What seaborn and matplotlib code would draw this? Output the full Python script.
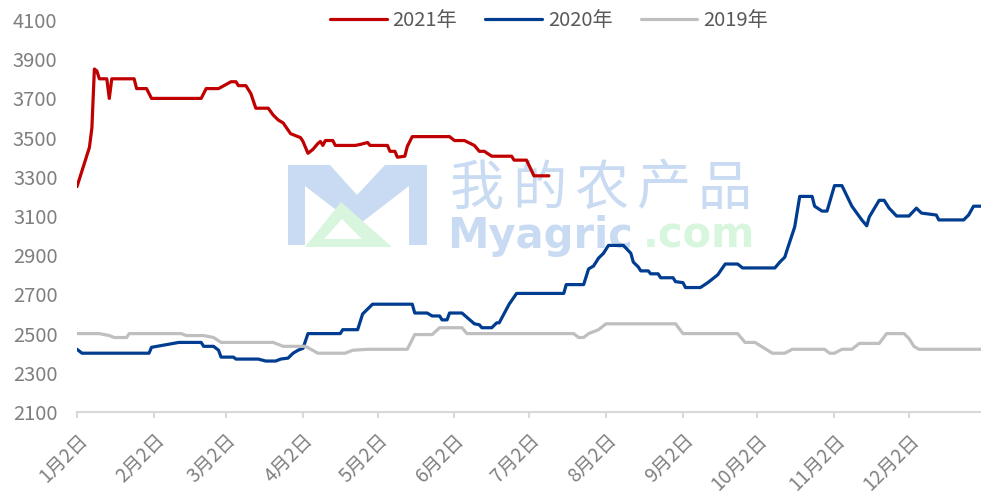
import pandas as pd
import matplotlib.pyplot as plt
import seaborn as sns
from matplotlib.patches import Polygon

# price series (month-day, value)
dates_2021 = ['01-02', '01-04', '01-07', '01-08', '01-09', '01-10', '01-11', '01-14', '01-15', '01-16',
              '01-25', '01-26', '01-30', '02-01', '02-21', '02-23', '02-28', '03-04', '03-06', '03-07',
              '03-10', '03-12', '03-14', '03-19', '03-21', '03-23', '03-25', '03-28', '04-01', '04-02',
              '04-04', '04-06', '04-08', '04-09', '04-10', '04-11', '04-14', '04-15', '04-23', '04-25',
              '04-28', '04-29', '05-06', '05-07', '05-09', '05-10', '05-13', '05-14', '05-16', '05-31',
              '06-02', '06-06', '06-10', '06-12', '06-14', '06-17', '06-25', '06-26', '07-01', '07-04',
              '07-10']
price_2021 = [3250, 3330, 3450, 3550, 3850, 3840, 3800, 3800, 3700, 3800,
              3800, 3750, 3750, 3700, 3700, 3750, 3750, 3785, 3785, 3765,
              3765, 3725, 3650, 3650, 3615, 3590, 3575, 3520, 3500, 3480,
              3420, 3440, 3470, 3480, 3460, 3485, 3485, 3460, 3460, 3465,
              3475, 3460, 3460, 3430, 3430, 3400, 3405, 3455, 3505, 3505,
              3485, 3485, 3460, 3430, 3430, 3405, 3405, 3385, 3385, 3305,
              3305]

dates_2020 = ['01-02', '01-04', '01-31', '02-01', '02-12', '02-21', '02-22', '02-26', '02-28', '02-29',
              '03-05', '03-06', '03-15', '03-18', '03-22', '03-24', '03-27', '03-29', '03-31', '04-02',
              '04-04', '04-17', '04-18', '04-24', '04-26', '04-30', '05-16', '05-17', '05-22', '05-24',
              '05-27', '05-28', '05-30', '05-31', '06-05', '06-10', '06-12', '06-13', '06-17', '06-19',
              '06-20', '06-24', '06-27', '07-16', '07-17', '07-24', '07-26', '07-28', '07-30', '08-01',
              '08-03', '08-09', '08-12', '08-13', '08-15', '08-16', '08-19', '08-20', '08-23', '08-24',
              '08-29', '08-30', '09-02', '09-03', '09-09', '09-12', '09-16', '09-19', '09-24', '09-26',
              '10-09', '10-11', '10-13', '10-14', '10-17', '10-19', '10-24', '10-25', '10-28', '10-30',
              '11-02', '11-05', '11-09', '11-11', '11-13', '11-15', '11-16', '11-20', '11-22', '11-24',
              '11-27', '12-02', '12-05', '12-07', '12-13', '12-14', '12-24', '12-26', '12-28', '12-31']
price_2020 = [2420, 2400, 2400, 2430, 2455, 2455, 2435, 2435, 2415, 2380,
              2380, 2370, 2370, 2360, 2360, 2370, 2375, 2400, 2415, 2425,
              2500, 2500, 2520, 2520, 2600, 2650, 2650, 2605, 2605, 2590,
              2590, 2570, 2570, 2605, 2605, 2550, 2545, 2530, 2530, 2555,
              2555, 2650, 2705, 2705, 2750, 2750, 2830, 2845, 2885, 2910,
              2950, 2950, 2910, 2865, 2840, 2820, 2820, 2805, 2805, 2785,
              2785, 2765, 2760, 2735, 2735, 2760, 2800, 2855, 2855, 2835,
              2835, 2865, 2890, 2930, 3045, 3200, 3200, 3150, 3125, 3125,
              3255, 3255, 3150, 3115, 3080, 3050, 3095, 3180, 3180, 3140,
              3100, 3100, 3140, 3115, 3105, 3080, 3080, 3105, 3150, 3150]

dates_2019 = ['01-02', '01-11', '01-15', '01-17', '01-22', '01-23', '02-13', '02-15', '02-22', '02-26',
              '02-29', '03-21', '03-25', '04-03', '04-08', '04-19', '04-22', '04-28', '05-14', '05-17',
              '05-24', '05-27', '06-05', '06-07', '07-20', '07-22', '07-24', '07-26', '07-30', '08-02',
              '08-30', '09-02', '09-24', '09-26', '09-27', '10-01', '10-08', '10-13', '10-16', '10-29',
              '10-31', '11-02', '11-05', '11-09', '11-12', '11-20', '11-23', '11-30', '12-02', '12-04',
              '12-06', '12-31']
price_2019 = [2500, 2500, 2490, 2480, 2480, 2500, 2500, 2490, 2490, 2480,
              2455, 2455, 2435, 2435, 2400, 2400, 2415, 2420, 2420, 2495,
              2495, 2530, 2530, 2500, 2500, 2480, 2480, 2500, 2520, 2550,
              2550, 2500, 2500, 2470, 2455, 2455, 2400, 2400, 2420, 2420,
              2400, 2400, 2420, 2420, 2450, 2450, 2500, 2500, 2475, 2435,
              2420, 2420]

years = ['2021年', '2020年', '2019年']
colors = ['#C00000', '#003C8F', '#BFBFBF']

tick_dates = ['01-02', '02-02', '03-02', '04-02', '05-02', '06-02',
              '07-02', '08-02', '09-02', '10-02', '11-02', '12-02']
tick_labels = ['1月2日', '2月2日', '3月2日', '4月2日', '5月2日', '6月2日',
               '7月2日', '8月2日', '9月2日', '10月2日', '11月2日', '12月2日']
y_ticks = list(range(2100, 4101, 200))

# long form table, all years put on one (leap) calendar
frames = []
for year, d, p in zip(years, [dates_2021, dates_2020, dates_2019], [price_2021, price_2020, price_2019]):
    frames.append(pd.DataFrame({'date': pd.to_datetime(['2020-' + s for s in d]),
                                'price': p, 'year': year}))
df = pd.concat(frames, ignore_index=True)

sns.set_theme(style='white')
plt.rcParams['font.family'] = ['Noto Sans CJK SC', 'DejaVu Sans']

W, H = 981, 499
fig = plt.figure(figsize=(W / 100, H / 100), dpi=100)
ax = fig.add_axes([77 / W, 1 - 412 / H, (W - 77) / W, (412 - 20) / H])


def fx(x):
    return x / W


def fy(y):
    return 1 - y / H


#watermark behind the lines
m_shape = [(288, 165), (330, 165), (357, 195), (385, 165), (427, 165), (427, 245), (409, 245),
           (409, 186), (357, 226), (305, 186), (305, 245), (288, 245)]
ax.add_patch(Polygon([(fx(a), fy(b)) for a, b in m_shape], closed=True, transform=fig.transFigure,
                     facecolor='#C9DBF2', edgecolor='none', zorder=0))
ax.add_patch(Polygon([(fx(a), fy(b)) for a, b in [(305, 247), (341, 202), (392, 247)]], closed=True,
                     transform=fig.transFigure, facecolor='#D8F5DE', edgecolor='none', zorder=0))
ax.add_patch(Polygon([(fx(a), fy(b)) for a, b in [(324, 239), (342, 219), (362, 239)]], closed=True,
                     transform=fig.transFigure, facecolor='white', edgecolor='none', zorder=0))
for i, ch in enumerate('我的农产品'):
    ax.text(fx(477 + 62 * i), fy(189), ch, transform=fig.transFigure, fontsize=39,
            color='#C9DBF2', ha='center', va='center', zorder=0)
ax.text(fx(447), fy(236), 'Myagric', transform=fig.transFigure, fontsize=30, fontweight='bold',
        family='DejaVu Sans', color='#C9DBF2', ha='left', va='center', zorder=0)
ax.text(fx(755), fy(236), '.com', transform=fig.transFigure, fontsize=30, fontweight='bold',
        family='DejaVu Sans', color='#D8F5DE', ha='right', va='center', zorder=0)

sns.lineplot(data=df, x='date', y='price', hue='year', hue_order=years, palette=colors,
             linewidth=2.3, estimator=None, ax=ax, zorder=2)

ax.patch.set_alpha(0)
ax.set_xlim(pd.Timestamp('2020-01-02'), pd.Timestamp('2020-12-31'))
ax.set_ylim(2100, 4100)
ax.set_yticks(y_ticks)
ax.set_xticks(pd.to_datetime(['2020-' + s for s in tick_dates]))
ax.set_xticklabels(tick_labels, rotation=45, ha='right', va='top', rotation_mode='anchor')
ax.set_xlabel('')
ax.set_ylabel('')

ax.tick_params(axis='y', length=0, pad=14, labelsize=14.5, labelcolor='#7F7F7F')
ax.tick_params(axis='x', length=4, width=1.5, color='#D9D9D9', pad=9, labelsize=13.8,
               labelcolor='#7F7F7F', bottom=True)
for side in ['left', 'top', 'right']:
    ax.spines[side].set_visible(False)
ax.spines['bottom'].set_color('#D9D9D9')
ax.spines['bottom'].set_linewidth(1.5)
ax.grid(False)

handles, labels = ax.get_legend_handles_labels()
ax.legend(handles, labels, loc='center', bbox_to_anchor=(fx(549), fy(21)), bbox_transform=fig.transFigure,
          ncol=3, frameon=False, fontsize=14.5, labelcolor='#595959', handlelength=2.8,
          handletextpad=0.3, columnspacing=1.4)

plt.savefig('out.png', dpi=100)
